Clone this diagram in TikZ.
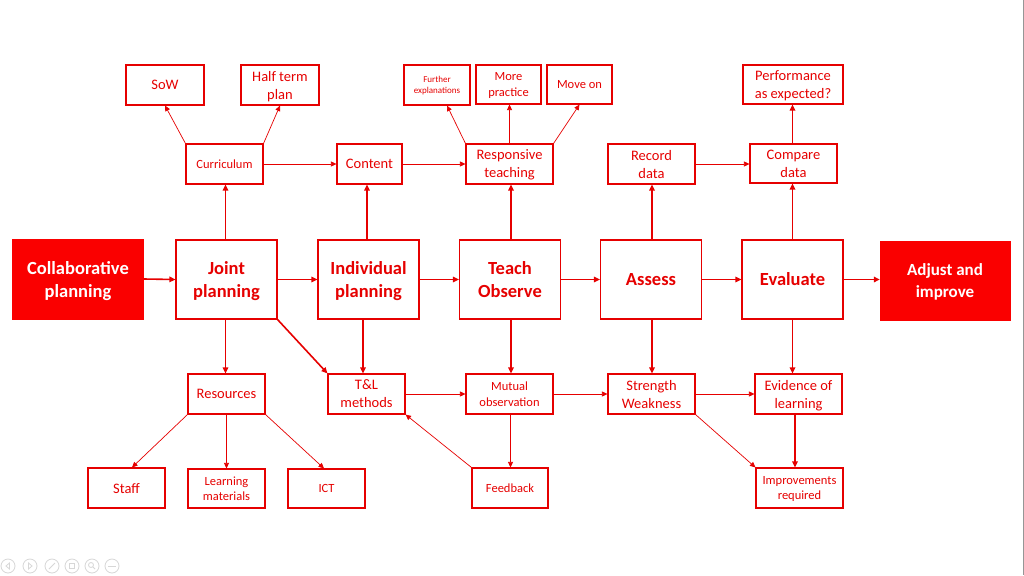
\documentclass[tikz,border=0pt]{standalone}
\usepackage{fontspec}
\setmainfont{Carlito}
\usetikzlibrary{arrows.meta}
\definecolor{myred}{RGB}{230,0,0}
\definecolor{fillred}{RGB}{250,0,0}
\definecolor{icongray}{RGB}{215,215,215}
\definecolor{edgegray}{RGB}{150,150,150}
\begin{document}
\begin{tikzpicture}[x=1pt,y=-1pt,
  box/.style={draw=myred, line width=1.1pt, text=myred, inner sep=0pt, align=center, text depth=0pt},
  sz/.style 2 args={minimum width=#1pt, minimum height=#2pt},
  mainbox/.style={box, sz={101}{79}, font=\fontsize{18.5}{23}\selectfont\bfseries},
  endbox/.style={fill=fillred, draw=fillred, text=white, inner sep=0pt, align=center, text depth=0pt, sz={131}{80}},
  fa/.style={font=\fontsize{14.5}{18}\selectfont},
  fb/.style={font=\fontsize{12.5}{15.5}\selectfont},
  fc/.style={font=\fontsize{9}{11}\selectfont},
  thk/.style={draw=myred, line width=1.6pt, -{Triangle[length=6pt,width=5.5pt]}},
  thn/.style={draw=myred, line width=0.7pt, -{Triangle[length=5.5pt,width=5pt]}},
  icon/.style={draw=icongray, line width=0.8pt}
]
\useasboundingbox (0,0) rectangle (1024,575);
\fill[white] (0,0) rectangle (1024,575);
\draw[edgegray, line width=1pt] (1023.5,0) -- (1023.5,575);

% main row
\node[endbox, font=\fontsize{18.5}{23}\selectfont\bfseries] (col) at (78,279) {Collaborative\\planning};
\node[mainbox] (jp) at (226.5,279.5) {Joint\\planning};
\node[mainbox] (ip) at (368.5,279.5) {Individual\\planning};
\node[mainbox] (to) at (510,279.5) {Teach\\Observe};
\node[mainbox] (as) at (651,279.5) {Assess};
\node[mainbox] (ev) at (792.5,279.5) {Evaluate};
\node[endbox, sz={130}{79}, font=\fontsize{17}{22}\selectfont\bfseries] (adj) at (945,280.5) {Adjust and\\improve};

% second row
\node[box, fb, sz={77}{40}] (cur) at (224.5,164) {Curriculum};
\node[box, fa, sz={65}{40}] (con) at (369.5,164) {Content};
\node[box, fa, sz={87}{40}] (resp) at (509.5,164) {Responsive\\teaching};
\node[box, fa, sz={87}{40}] (rec) at (651.5,164) {Record\\data};
\node[box, fa, sz={87}{39}] (cmp) at (793.5,163.5) {Compare\\data};

% top row
\node[box, fa, sz={78}{40}] (sow) at (165,85) {SoW};
\node[box, fa, sz={78}{40}] (htp) at (280,85) {Half term\\plan};
\node[box, fc, sz={66}{40}] (fex) at (437,85) {Further\\explanations};
\node[box, fb, sz={65}{39}] (mp) at (508.5,84.5) {More\\practice};
\node[box, fb, sz={65}{39}] (mo) at (579.5,84.5) {Move on};
\node[box, fa, sz={100}{39}] (perf) at (793,84.5) {Performance\\as expected?};

% fourth row
\node[box, fa, sz={77}{40}] (res) at (226.5,394) {Resources};
\node[box, fa, sz={77}{40}] (tl) at (366.5,394) {T\&L\\methods};
\node[box, fb, sz={87}{40}] (mut) at (509.5,394) {Mutual\\observation};
\node[box, fa, sz={87}{40}] (sw) at (651.5,394) {Strength\\Weakness};
\node[box, fa, sz={87}{40}] (evl) at (798.5,394) {Evidence of\\learning};

% fifth row
\node[box, fa, sz={77}{40}] (stf) at (126.5,488) {Staff};
\node[box, fb, sz={77}{39}] (lm) at (226.5,488.5) {Learning\\materials};
\node[box, fb, sz={77}{39}] (ict) at (326.5,488.5) {ICT};
\node[box, fb, sz={76}{40}] (fb) at (510,488) {Feedback};
\node[box, fb, sz={87}{40}] (imp) at (799.5,488) {Improvements\\required};

% main row arrows
\draw[thk] (col.east) -- (jp.west);
\draw[thk] (jp.east) -- (ip.west);
\draw[thk] (ip.east) -- (to.west);
\draw[thk] (to.east) -- (as.west);
\draw[thk] (as.east) -- (ev.west);
\draw[thk] (ev.east) -- (adj.west |- ev.east);

% up arrows
\draw[thk] ([xshift=-1pt]jp.north) -- ([xshift=-1pt]jp.north |- cur.south);
\draw[thk] ([xshift=-1.5pt]ip.north) -- ([xshift=-1.5pt]ip.north |- con.south);
\draw[thk] ([xshift=1pt]to.north) -- ([xshift=1pt]to.north |- resp.south);
\draw[thk] ([xshift=1pt]as.north) -- ([xshift=1pt]as.north |- rec.south);
\draw[thk] (ev.north) -- (ev.north |- cmp.south);
\draw[thk] (cmp.north -| ev.north) -- (ev.north |- perf.south);

% down arrows
\draw[thk] ([xshift=-1pt]jp.south) -- ([xshift=-1pt]jp.south |- res.north);
\draw[thk] (jp.south east) -- (tl.north west);
\draw[thk] ([xshift=-5.5pt]ip.south) -- ([xshift=-5.5pt]ip.south |- tl.north);
\draw[thk] ([xshift=1pt]to.south) -- ([xshift=1pt]to.south |- mut.north);
\draw[thk] ([xshift=1pt]as.south) -- ([xshift=1pt]as.south |- sw.north);
\draw[thk] (ev.south) -- (ev.south |- evl.north);
\draw[thk] ([xshift=-3.5pt]evl.south) -- ([xshift=-3.5pt]evl.south |- imp.north);

% thin connectors, top
\draw[thn] (cur.north west) -- (sow.south);
\draw[thn] (cur.north east) -- (htp.south);
\draw[thn] (cur.east) -- (con.west);
\draw[thn] (con.east) -- (resp.west);
\draw[thn] (resp.north west) -- ([xshift=10pt]fex.south);
\draw[thn] (resp.north) -- (resp.north |- mp.south);
\draw[thn] (resp.north east) -- (mo.south);
\draw[thn] (rec.east) -- (cmp.west |- rec.east);

% thin connectors, bottom
\draw[thn] (res.south west) -- ([xshift=5.5pt]stf.north);
\draw[thn] (res.south) -- (lm.north);
\draw[thn] (res.south east) -- ([xshift=-2.5pt]ict.north);
\draw[thn] (tl.east) -- (mut.west);
\draw[thn] (mut.east) -- (sw.west);
\draw[thn] (sw.east) -- (evl.west |- sw.east);
\draw[thn] ([xshift=1pt]mut.south) -- ([xshift=1pt]mut.south |- fb.north);
\draw[thn] (fb.north west) -- (tl.south east);
\draw[thn] (sw.south east) -- (imp.north west);

% slide-show controls
\foreach \cx in {8,30,52,72,92,112} {\draw[icon] (\cx,566) circle (7);}
\draw[icon] (9.5,563) -- (6,566) -- (9.5,569) -- cycle;
\draw[icon] (28.5,563) -- (32,566) -- (28.5,569) -- cycle;
\draw[icon] (49,569) -- (55,563);
\draw[icon] (69,563) rectangle (74,568);
\draw[icon] (91,565) circle (2.5);
\draw[icon] (92.8,566.8) -- (95,569);
\draw[icon] (108,566) -- (116,566);
\end{tikzpicture}
\end{document}
